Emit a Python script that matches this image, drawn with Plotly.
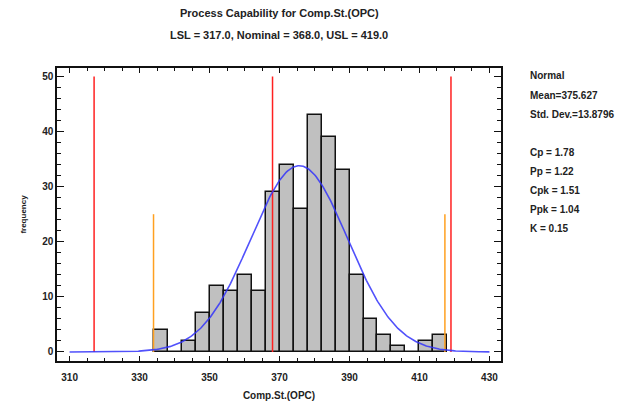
import numpy as np
import plotly.graph_objects as go

# ---- data ----
bin_start = 334.0
bin_width = 4.0
counts = [4, 0, 2, 7, 12, 11, 14, 11, 29, 34, 26, 43, 39, 33, 14, 6, 3, 1, 0, 2, 3]
LSL, NOMINAL, USL = 317.0, 368.0, 419.0
MEAN, SD = 375.627, 13.8796
spec_height = 50
sigma_height = 25
curve_range = (310, 430)
stats_lines = ["Normal", "Mean=375.627", "Std. Dev.=13.8796", "",
               "Cp = 1.78", "Pp = 1.22", "Cpk = 1.51", "Ppk = 1.04", "K = 0.15"]
title1 = "Process Capability for Comp.St.(OPC)"
title2 = "LSL = 317.0, Nominal = 368.0, USL = 419.0"
xlabel = "Comp.St.(OPC)"
ylabel = "frequency"

centers = [bin_start + bin_width * (i + 0.5) for i in range(len(counts))]
n = sum(counts)
xs = np.linspace(curve_range[0], curve_range[1], 400)
ys = n * bin_width / (SD * np.sqrt(2 * np.pi)) * np.exp(-0.5 * ((xs - MEAN) / SD) ** 2)

FONT = "Liberation Sans"
TXT = "#222222"

fig = go.Figure()
fig.add_trace(go.Bar(x=centers, y=counts, width=bin_width,
                     marker=dict(color="#C0C0C0", line=dict(color="#111111", width=1.5)),
                     showlegend=False, hoverinfo="skip"))
for v in (LSL, NOMINAL, USL):
    fig.add_trace(go.Scatter(x=[v, v], y=[0, spec_height], mode="lines",
                             line=dict(color="#FF2020", width=1.5), showlegend=False))
for v in (MEAN - 3 * SD, MEAN + 3 * SD):
    fig.add_trace(go.Scatter(x=[v, v], y=[0, sigma_height], mode="lines",
                             line=dict(color="#FFA020", width=1.5), showlegend=False))
fig.add_trace(go.Scatter(x=xs, y=ys, mode="lines",
                         line=dict(color="rgba(50,50,250,0.85)", width=1.6), showlegend=False))

L, R, T, B = 57, 142, 68, 46
W, H = 643, 407
pw, ph = W - L - R, H - T - B

def px(xp):
    return (xp - L) / pw

def py(yp):
    return (H - B - yp) / ph

ann = []
ann.append(dict(text=title1, x=0.5, y=py(13), xref="paper", yref="paper",
                yanchor="middle", showarrow=False,
                font=dict(family=FONT, size=11, color=TXT, weight="bold")))
ann.append(dict(text=title2, x=0.5, y=py(35), xref="paper", yref="paper",
                yanchor="middle", showarrow=False,
                font=dict(family=FONT, size=11, color=TXT, weight="bold")))
for i, s in enumerate(stats_lines):
    if not s:
        continue
    ann.append(dict(text=s, x=px(528), y=py(76 + 19 * i), xref="paper", yref="paper",
                    xanchor="left", yanchor="middle", showarrow=False,
                    font=dict(family=FONT, size=10, color=TXT, weight="bold")))

fig.update_layout(
    width=W, height=H, margin=dict(l=L, r=R, t=T, b=B),
    paper_bgcolor="white", plot_bgcolor="white",
    bargap=0, annotations=ann,
    font=dict(family=FONT, color=TXT),
)
fig.update_xaxes(range=[306.4, 433.3], tick0=310, dtick=20, ticks="inside", ticklen=5,
                 tickcolor="#111", showline=True, linecolor="#111", linewidth=1.5,
                 mirror="allticks", showgrid=False, zeroline=False, automargin=False,
                 ticklabelstandoff=6,
                 tickfont=dict(family=FONT, size=10, color=TXT, weight="bold"),
                 minor=dict(dtick=5, tick0=310, ticks="inside", ticklen=3.5, tickcolor="#111"),
                 title=dict(text=xlabel, standoff=10,
                            font=dict(family=FONT, size=10, color=TXT, weight="bold")))
fig.update_yaxes(range=[-1.64, 51.53], tick0=0, dtick=10, ticks="inside", ticklen=7,
                 tickcolor="#111", showline=True,
                 linecolor="#111", linewidth=1.5, automargin=False,
                 mirror="allticks", showgrid=False, zeroline=False,
                 tickfont=dict(family=FONT, size=10, color=TXT, weight="bold"),
                 minor=dict(dtick=2, tick0=0, ticks="inside", ticklen=4, tickcolor="#111"),
                 title=dict(text=ylabel, standoff=14,
                            font=dict(family=FONT, size=8, color=TXT, weight="bold")))

fig.write_html("out.html")
